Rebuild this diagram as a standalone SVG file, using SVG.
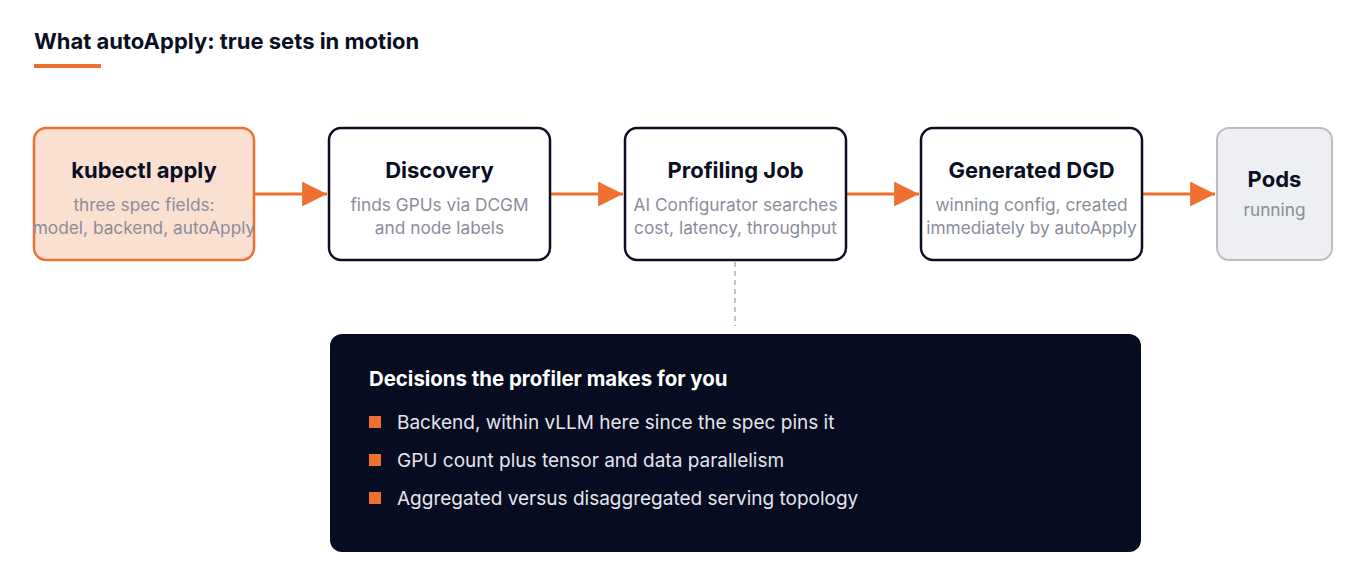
<svg xmlns="http://www.w3.org/2000/svg" width="1368" height="578" viewBox="0 0 1368 578">
<style>
text{font-family:Inter,"Noto Sans","Liberation Sans",sans-serif}
.t{font-size:22px;font-weight:700;fill:#0B0F24;text-anchor:middle}
.s{font-size:17.3px;fill:#8A8D99;text-anchor:middle}
.box{fill:#fff;stroke:#0B0F24;stroke-width:2.5}
.conn{stroke:#EE7030;stroke-width:3;fill:none}
.b{font-size:19px;fill:#E4E5EA}
.sq{fill:#EE7030}
</style>
<defs>
<marker id="ah" viewBox="0 0 10 10" refX="10" refY="5" markerWidth="8.3" markerHeight="8.3" markerUnits="strokeWidth" orient="auto">
<path d="M0,0 L10,5 L0,10 Z" fill="#EE7030"/>
</marker>
</defs>
<text x="34" y="49" style="font-size:22px;font-weight:700;fill:#0B0F24">What autoApply: true sets in motion</text>
<rect x="34" y="64" width="67" height="4" fill="#EE7030"/>
<g id="connectors">
<line class="conn" x1="254" y1="194" x2="327" y2="194" marker-end="url(#ah)"/>
<line class="conn" x1="550" y1="194" x2="623" y2="194" marker-end="url(#ah)"/>
<line class="conn" x1="846" y1="194" x2="919" y2="194" marker-end="url(#ah)"/>
<line class="conn" x1="1142" y1="194" x2="1215" y2="194" marker-end="url(#ah)"/>
<line x1="735" y1="262" x2="735" y2="326" stroke="#C0C2C8" stroke-width="2" stroke-dasharray="5 4"/>
</g>
<g id="kubectl">
<rect x="34" y="128" width="220" height="132" rx="12" fill="#FAE0D0" stroke="#EE7030" stroke-width="2.5"/>
<text class="t" x="144" y="178">kubectl apply</text>
<text class="s" x="144" y="211">three spec fields:</text>
<text class="s" x="144" y="234">model, backend, autoApply</text>
</g>
<g id="discovery">
<rect class="box" x="329" y="128" width="221" height="132" rx="12"/>
<text class="t" x="439.5" y="178">Discovery</text>
<text class="s" x="439.5" y="211">finds GPUs via DCGM</text>
<text class="s" x="439.5" y="234">and node labels</text>
</g>
<g id="profiling">
<rect class="box" x="625" y="128" width="221" height="132" rx="12"/>
<text class="t" x="735.5" y="178">Profiling Job</text>
<text class="s" x="735.5" y="211">AI Configurator searches</text>
<text class="s" x="735.5" y="234">cost, latency, throughput</text>
</g>
<g id="dgd">
<rect class="box" x="921" y="128" width="221" height="132" rx="12"/>
<text class="t" x="1031.5" y="178">Generated DGD</text>
<text class="s" x="1031.5" y="211">winning config, created</text>
<text class="s" x="1031.5" y="234">immediately by autoApply</text>
</g>
<g id="pods">
<rect x="1217" y="128" width="115" height="132" rx="12" fill="#EEEFF3" stroke="#BCBDC3" stroke-width="2"/>
<text class="t" x="1274.5" y="187">Pods</text>
<text class="s" x="1274.5" y="216">running</text>
</g>
<g id="decisions">
<rect x="330" y="334" width="811" height="218" rx="12" fill="#080C20"/>
<text x="369" y="386" style="font-size:20.4px;font-weight:700;fill:#fff">Decisions the profiler makes for you</text>
<rect class="sq" x="369" y="416" width="12" height="12"/>
<text class="b" x="397" y="429">Backend, within vLLM here since the spec pins it</text>
<rect class="sq" x="369" y="454" width="12" height="12"/>
<text class="b" x="397" y="467">GPU count plus tensor and data parallelism</text>
<rect class="sq" x="369" y="492" width="12" height="12"/>
<text class="b" x="397" y="505">Aggregated versus disaggregated serving topology</text>
</g>
</svg>
